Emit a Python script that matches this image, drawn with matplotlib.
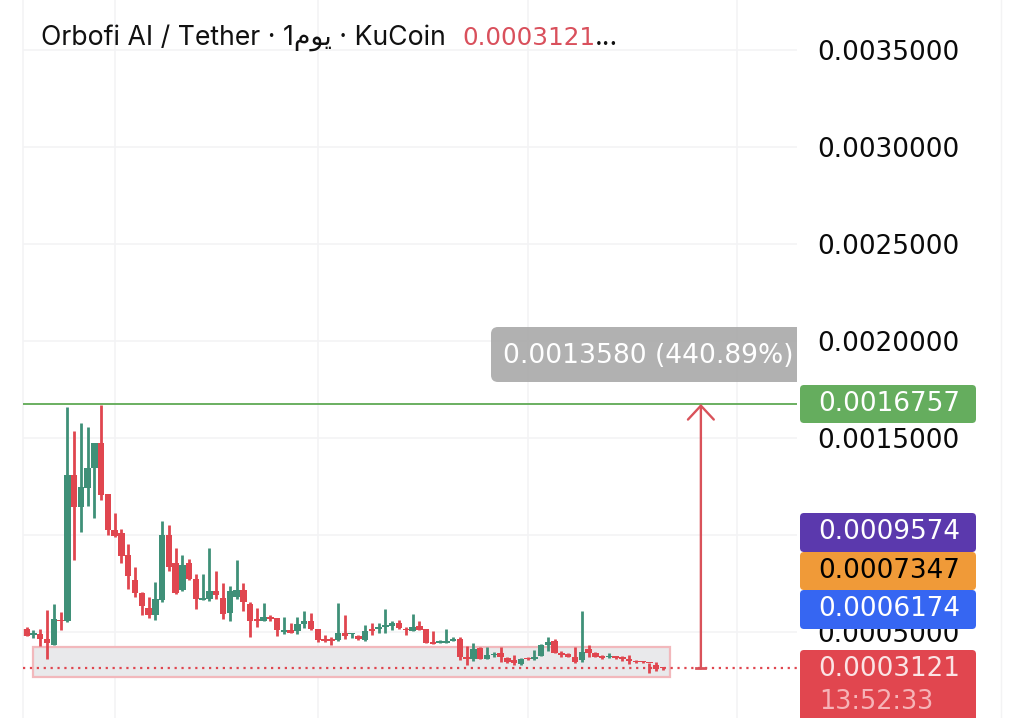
# -*- coding: utf-8 -*-
import numpy as np
import matplotlib
matplotlib.use('Agg')
from matplotlib import pyplot as plt
from matplotlib.patches import FancyBboxPatch, Rectangle
from matplotlib.transforms import IdentityTransform

plt.rcParams['font.family'] = ['Inter', 'DejaVu Sans']

# daily candles, prices in millionths of USDT
is_up = [0,1,0,0,1,0,1,0,1,1,1,0,0,0,0,0,0,0,0,1,1,0,0,1,0,0,1,1,0,0,1,1,0,0,0,
         1,0,0,1,0,1,1,0,0,0,0,1,0,1,0,1,0,1,1,1,0,0,1,0,0,0,1,1,1,
         0,0,1,0,1,1,0,0,0,1,0,1,1,1,0,0,0,0,1,0,0,0,1,0,0,0,0,0,0,0,0]
high = [524,510,517,613,644,603,1658,1538,1579,1558,1472,1672,1210,1112,1029,954,837,706,682,758,
        1074,1050,933,897,878,799,799,933,816,751,737,871,754,655,622,
        648,586,572,576,548,579,607,600,517,483,473,648,588,493,486,534,548,545,617,555,562,524,593,555,514,507,459,517,473,
        473,428,442,421,424,399,424,373,381,366,373,407,438,473,462,400,390,424,607,431,397,383,393,376,376,383,356,352,342,345,318]
body_top = [514,497,490,466,565,562,1309,1309,1249,1345,1472,1476,1210,1026,1009,895,768,699,622,668,
            1000,1000,857,844,857,771,672,710,710,674,710,716,716,644,562,
            576,576,572,510,510,540,558,555,517,466,462,493,497,493,479,507,517,524,534,545,548,517,527,531,514,445,452,450,462,
            466,373,411,419,380,387,390,366,356,363,366,373,431,448,452,393,385,369,399,414,390,376,376,373,369,359,352,349,340,328,315]
body_bot = [481,483,466,442,435,555,555,1146,1143,1242,1345,1208,1026,995,892,789,699,634,588,589,
            665,837,703,716,771,668,665,672,689,593,600,679,655,558,557,
            555,569,510,500,497,503,541,514,459,454,455,459,479,488,462,459,507,517,527,531,521,510,503,510,445,438,445,445,452,
            369,359,359,363,363,380,369,345,342,335,359,359,376,431,390,380,373,345,356,390,373,366,369,366,359,352,345,344,338,308,312]
low = [481,469,428,359,431,510,552,871,1015,1149,1088,1180,1000,988,857,723,679,588,572,562,
       655,816,696,713,768,620,665,661,672,569,558,668,607,473,524,
       555,558,479,490,497,490,521,510,448,448,435,452,466,469,459,452,486,493,497,510,517,486,503,510,442,438,445,445,452,
       356,332,352,363,363,369,345,338,328,332,356,356,376,404,390,373,369,338,345,369,369,359,366,363,349,335,342,342,290,297,305]

y_ticks = [0.0005, 0.0010, 0.0015, 0.0020, 0.0025, 0.0030, 0.0035]
month_starts = [13, 43, 74, 105]

last_price = 0.0003121
top_price = 0.0016757
zone_low = 0.000268
zone_high = 0.000423
zone_start = 1
zone_end = 95
arrow_day = 99.6

tag_labels = ['0.0016757', '0.0009574', '0.0007347', '0.0006174', '0.0003121']
tag_colors = ['#65ad5e', '#5b39ad', '#f09a38', '#3666f2', '#e1464f']
tag_text = ['#ffffff', '#ffffff', '#000000', '#ffffff', '#fbe3e4']
tag_tops = [385, 513, 552, 590, 650]
tag_bottoms = [423, 552, 590, 629, 730]

RED = '#e0464f'
GREEN = '#3f9078'
GRID = '#f3f3f5'
# DejaVu digits are all one width, like the original scale
NUM_FONT = 'DejaVu Sans'
LABEL_SIZE = 18.9

W, H = 1024, 718
fig = plt.figure(figsize=(W / 100, H / 100), dpi=100, facecolor='white')
ax = fig.add_axes([23 / W, 0, (797 - 23) / W, 1])

x = np.arange(len(high))
high = np.array(high) * 1e-6
low = np.array(low) * 1e-6
body_top = np.array(body_top) * 1e-6
body_bot = np.array(body_bot) * 1e-6
colors = [GREEN if u else RED for u in is_up]

ax.set_xlim(-0.547, 113.8)
ax.set_ylim(0.0000567, 0.003758)

ax.add_patch(Rectangle((zone_start, zone_low), zone_end - zone_start, zone_high - zone_low,
                       facecolor='#e9e9eb', edgecolor='#f2b8bc', lw=1.6, zorder=1.5))

# green line, dotted last price
ax.axhline(top_price, color='#6aaf60', lw=1.4, zorder=3)

ax.vlines(x, low, high, colors=colors, lw=2.0, zorder=2)
ax.bar(x, np.maximum(body_top - body_bot, 8e-6), bottom=body_bot, width=0.95,
       color=colors, lw=0, zorder=2.2)

ax.axhline(last_price, color=RED, lw=1.6, ls=(0, (1, 2.1)), zorder=3)

# the measure arrow
ax.annotate('', xy=(arrow_day, top_price), xytext=(arrow_day, last_price),
            arrowprops=dict(arrowstyle='->,head_length=1.0,head_width=0.93', color='#d9525a',
                            lw=1.7, shrinkA=0, shrinkB=0, mutation_scale=10), zorder=4)
ax.plot([arrow_day - 0.65, arrow_day + 0.65], [last_price, last_price], color='#d9525a', lw=2, zorder=4)

ax.set_xticks(month_starts)
ax.set_yticks(y_ticks)
ax.set_xticklabels([])
# 0.0010000 sits under the purple tag in the original
ax.set_yticklabels(['' if v == 0.0010 else '%.7f' % v for v in y_ticks], family=NUM_FONT)
ax.yaxis.tick_right()
ax.tick_params(axis='both', length=0)
ax.tick_params(axis='y', pad=14.5, labelsize=LABEL_SIZE, labelcolor='#0a0a0a')
ax.grid(True, color=GRID, lw=1.2)
ax.set_axisbelow(True)
for s in ['top', 'right', 'bottom']:
    ax.spines[s].set_visible(False)
ax.spines['left'].set_color(GRID)
ax.spines['left'].set_linewidth(1.2)

# the right edge of the chart pane
fig.add_artist(plt.Line2D([1001 / W, 1001 / W], [0, 1], color='#f3f3f4', lw=1))

# callout over the arrow
box = FancyBboxPatch((497, H - 376), 340, 43, boxstyle='round,pad=6,rounding_size=7',
                     transform=IdentityTransform(), facecolor='#acacac', edgecolor='none',
                     alpha=0.94, zorder=6)
fig.add_artist(box)
box.set_clip_path(Rectangle((0, 0), 797, H, transform=IdentityTransform()))
fig.text(503, H - 356, '0.0013580 (440.89%)', transform=IdentityTransform(), color='white',
         fontsize=19.1, va='center', ha='left', zorder=7, family=NUM_FONT)

# price tags on the scale
for label, c, tc, top, bottom in zip(tag_labels, tag_colors, tag_text, tag_tops, tag_bottoms):
    r = 3
    tag = FancyBboxPatch((800 + r, H - bottom + r), 176 - 2 * r, bottom - top - 2 * r,
                         boxstyle='round,pad=%d,rounding_size=4' % r, transform=IdentityTransform(),
                         facecolor=c, edgecolor='none', zorder=8)
    fig.add_artist(tag)
    yc = H - (top + 19)
    fig.text(818, yc, label, transform=IdentityTransform(), color=tc, fontsize=LABEL_SIZE,
             va='center', ha='left', zorder=9, family=NUM_FONT)
fig.text(819, H - 702, '13:52:33', transform=IdentityTransform(), color='#f6b3b7', fontsize=18.4,
         va='center', ha='left', zorder=9, family=NUM_FONT)

# title, three pieces side by side
title_y = H - 45
fig.text(41, title_y, 'Orbofi AI / Tether \u00b7 1\ufee1\ufeee\ufef3 \u00b7 KuCoin',
         transform=IdentityTransform(), color='#111111', fontsize=19.2, va='baseline', zorder=9)
fig.text(462, title_y, '0.0003121', transform=IdentityTransform(), color='#d9505c',
         fontsize=17.7, va='baseline', zorder=9, family=NUM_FONT)
fig.text(595, title_y, '...', transform=IdentityTransform(), color='#111111',
         fontsize=19.2, va='baseline', zorder=9)

fig.savefig('out.png', dpi=100)
